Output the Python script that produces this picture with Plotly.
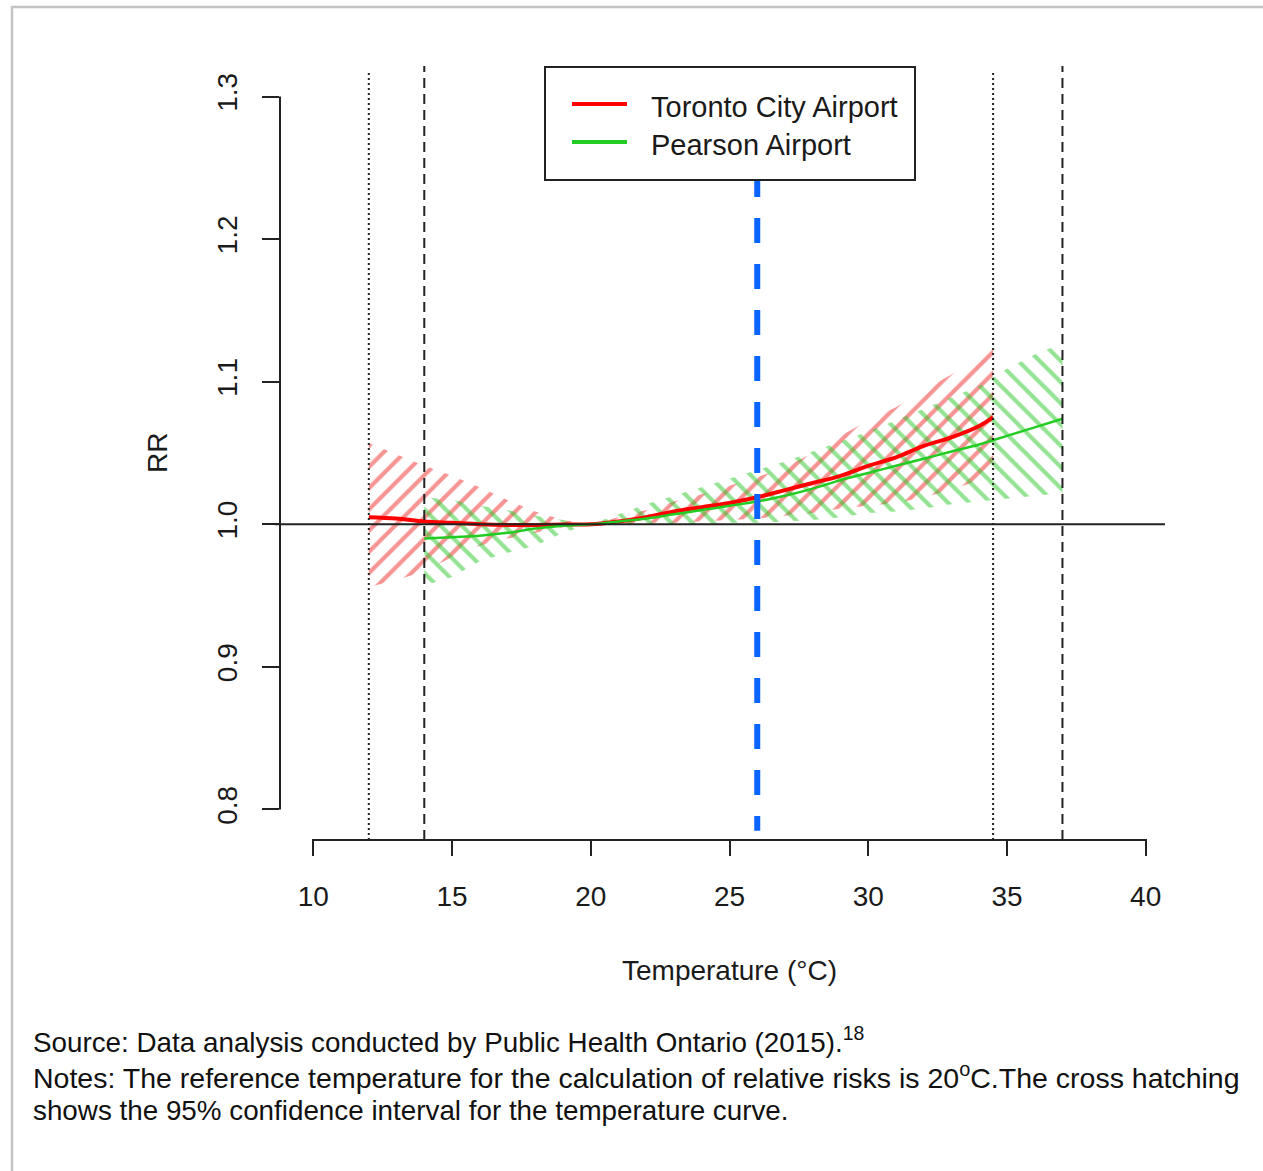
import plotly.graph_objects as go

# ---------------- data ----------------
temp_red = [12, 13, 14, 15, 16, 17, 18, 19, 20, 21, 22, 23, 24, 25, 26, 27, 28, 29, 30, 31, 32, 33, 34, 34.5]
rr_red = [1.005, 1.004, 1.002, 1.001, 1.000, 0.9995, 0.9995, 0.9998, 1.000, 1.002, 1.005, 1.009, 1.012,
          1.015, 1.019, 1.024, 1.029, 1.034, 1.041, 1.047, 1.055, 1.061, 1.069, 1.075]
red_hi = [1.057, 1.049, 1.041, 1.034, 1.026, 1.017, 1.009, 1.003, 1.000, 1.005, 1.010, 1.016, 1.021,
          1.027, 1.033, 1.040, 1.050, 1.062, 1.073, 1.082, 1.094, 1.105, 1.118, 1.124]
red_lo = [0.956, 0.961, 0.967, 0.977, 0.985, 0.990, 0.994, 0.998, 1.000, 1.000, 1.001, 1.001, 1.002,
          1.003, 1.004, 1.006, 1.008, 1.011, 1.013, 1.015, 1.019, 1.024, 1.031, 1.035]

temp_green = [14, 15, 16, 17, 18, 19, 20, 21, 22, 23, 24, 25, 26, 27, 28, 29, 30, 31, 32, 33, 34, 35, 36, 37]
rr_green = [0.990, 0.991, 0.992, 0.994, 0.997, 0.999, 1.000, 1.002, 1.004, 1.007, 1.010, 1.013, 1.016,
            1.020, 1.025, 1.031, 1.036, 1.041, 1.046, 1.051, 1.056, 1.062, 1.068, 1.074]
green_hi = [1.019, 1.017, 1.013, 1.010, 1.006, 1.003, 1.000, 1.007, 1.014, 1.020, 1.026, 1.032, 1.038,
            1.044, 1.051, 1.058, 1.065, 1.073, 1.081, 1.089, 1.097, 1.109, 1.119, 1.127]
green_lo = [0.957, 0.963, 0.974, 0.980, 0.985, 0.994, 1.000, 1.000, 1.000, 1.000, 1.000, 1.001, 1.001,
            1.002, 1.003, 1.005, 1.008, 1.009, 1.011, 1.014, 1.016, 1.018, 1.020, 1.022]

x_ticks = [10, 15, 20, 25, 30, 35, 40]
y_ticks = [0.8, 0.9, 1.0, 1.1, 1.2, 1.3]
y_tick_text = ["0.8", "0.9", "1.0", "1.1", "1.2", "1.3"]

dotted_lines = [12, 34.5]
dashed_lines = [14, 37]
threshold_temp = 26
reference_rr = 1.0

series_names = ["Toronto City Airport", "Pearson Airport"]

# ---------------- layout geometry ----------------
W, H = 1263, 1171
ML, MR, MT, MB = 280, 84, 68, 333
PW, PH = W - ML - MR, H - MT - MB


def px(x):
    return (x - ML) / PW


def py(y):
    return (H - MB - y) / PH


FONT = "Liberation Sans, Arial, sans-serif"
TXT = "#1a1a1a"
RED = "#ff0000"
GREEN_LINE = "#22cc22"

fig = go.Figure()

# confidence bands (hatched)
fig.add_trace(go.Scatter(
    x=temp_red + temp_red[::-1], y=red_hi + red_lo[::-1],
    fill="toself", mode="lines", line=dict(width=0, color="rgba(0,0,0,0)"),
    fillcolor="rgba(0,0,0,0)",
    fillpattern=dict(shape="/", fgcolor="#f02828", bgcolor="rgba(0,0,0,0)", size=15, solidity=0.28),
    hoverinfo="skip", showlegend=False))
fig.add_trace(go.Scatter(
    x=temp_green + temp_green[::-1], y=green_hi + green_lo[::-1],
    fill="toself", mode="lines", line=dict(width=0, color="rgba(0,0,0,0)"),
    fillcolor="rgba(0,0,0,0)",
    fillpattern=dict(shape="\\", fgcolor="#28c828", bgcolor="rgba(0,0,0,0)", size=15, solidity=0.28),
    hoverinfo="skip", showlegend=False))

# curves
fig.add_trace(go.Scatter(x=temp_red, y=rr_red, mode="lines", name=series_names[0],
                         line=dict(color=RED, width=4, shape="spline"), showlegend=False))
fig.add_trace(go.Scatter(x=temp_green, y=rr_green, mode="lines", name=series_names[1],
                         line=dict(color=GREEN_LINE, width=2.5, shape="spline"), showlegend=False))

shapes = []
# reference horizontal line
shapes.append(dict(type="line", xref="paper", yref="y", x0=-0.006, x1=px(1165),
                   y0=reference_rr, y1=reference_rr, line=dict(color="#222", width=2)))
# vertical guide lines
for v in dotted_lines:
    shapes.append(dict(type="line", xref="x", yref="paper", x0=v, x1=v, y0=py(840), y1=py(70),
                       line=dict(color="#222", width=2, dash="2px,3px")))
for v in dashed_lines:
    shapes.append(dict(type="line", xref="x", yref="paper", x0=v, x1=v, y0=py(840), y1=py(66),
                       line=dict(color="#222", width=2, dash="10px,6px")))
# threshold blue dashed line (drawn from the top down)
shapes.append(dict(type="line", xref="x", yref="y", x0=threshold_temp, x1=threshold_temp,
                   y0=1.247, y1=0.785, line=dict(color="#0a64ff", width=6, dash="25px,21px")))
# R-style axis lines
shapes.append(dict(type="line", xref="x", yref="paper", x0=x_ticks[0], x1=x_ticks[-1],
                   y0=py(840), y1=py(840), line=dict(color="#222", width=2)))
shapes.append(dict(type="line", xref="paper", yref="y", x0=0, x1=0,
                   y0=y_ticks[0], y1=y_ticks[-1], line=dict(color="#222", width=2)))
# legend box
shapes.append(dict(type="rect", xref="paper", yref="paper", x0=px(545), x1=px(915),
                   y0=py(180), y1=py(67), line=dict(color="#222", width=2), fillcolor="white",
                   layer="above"))
shapes.append(dict(type="line", xref="paper", yref="paper", x0=px(572), x1=px(627),
                   y0=py(104), y1=py(104), line=dict(color=RED, width=4), layer="above"))
shapes.append(dict(type="line", xref="paper", yref="paper", x0=px(572), x1=px(627),
                   y0=py(142), y1=py(142), line=dict(color=GREEN_LINE, width=4), layer="above"))
# outer frame
shapes.append(dict(type="rect", xref="paper", yref="paper", x0=px(12), x1=px(1275),
                   y0=py(1190), y1=py(7), line=dict(color="#c4c4c4", width=2.5)))

annotations = [
    dict(text=series_names[0], xref="paper", yref="paper", x=px(649), y=py(107),
         xanchor="left", yanchor="middle", showarrow=False, font=dict(size=29, color=TXT, family=FONT)),
    dict(text=series_names[1], xref="paper", yref="paper", x=px(649), y=py(145),
         xanchor="left", yanchor="middle", showarrow=False, font=dict(size=29, color=TXT, family=FONT)),
    dict(text="Temperature (°C)", xref="x", yref="paper", x=25, y=py(970),
         xanchor="center", yanchor="middle", showarrow=False, font=dict(size=28, color=TXT, family=FONT)),
    dict(text="RR", xref="paper", yref="y", x=px(157), y=1.05, textangle=-90,
         xanchor="center", yanchor="middle", showarrow=False, font=dict(size=28, color=TXT, family=FONT)),
    dict(text="Source: Data analysis conducted by Public Health Ontario (2015).<sup>18</sup>",
         xref="paper", yref="paper", x=px(31), y=py(1040), xanchor="left", yanchor="middle",
         showarrow=False, font=dict(size=27.8, color="#111", family=FONT)),
    dict(text="Notes: The reference temperature for the calculation of relative risks is 20<sup>o</sup>C.The cross hatching",
         xref="paper", yref="paper", x=px(31), y=py(1076), xanchor="left", yanchor="middle",
         showarrow=False, font=dict(size=28.5, color="#111", family=FONT)),
    dict(text="shows the 95% confidence interval for the temperature curve.",
         xref="paper", yref="paper", x=px(31), y=py(1110), xanchor="left", yanchor="middle",
         showarrow=False, font=dict(size=27.8, color="#111", family=FONT)),
]

fig.update_layout(
    width=W, height=H, margin=dict(l=ML, r=MR, t=MT, b=MB, autoexpand=False),
    paper_bgcolor="white", plot_bgcolor="white",
    shapes=shapes, annotations=annotations, showlegend=False,
    xaxis=dict(range=[8.8, 41.2], showgrid=False, zeroline=False, showline=False,
               tickmode="array", tickvals=x_ticks, ticks="outside", ticklen=17, tickwidth=2,
               tickcolor="#222", tickfont=dict(size=28, color=TXT, family=FONT),
               ticklabelstandoff=16, automargin=False),
    yaxis=dict(range=[0.78, 1.32], showgrid=False, zeroline=False, showline=False,
               tickmode="array", tickvals=y_ticks, ticktext=y_tick_text, ticks="outside",
               ticklen=17, tickwidth=2, tickcolor="#222", tickangle=-90,
               tickfont=dict(size=28, color=TXT, family=FONT), ticklabelstandoff=14,
               automargin=False),
)

fig.write_html("out.html")
